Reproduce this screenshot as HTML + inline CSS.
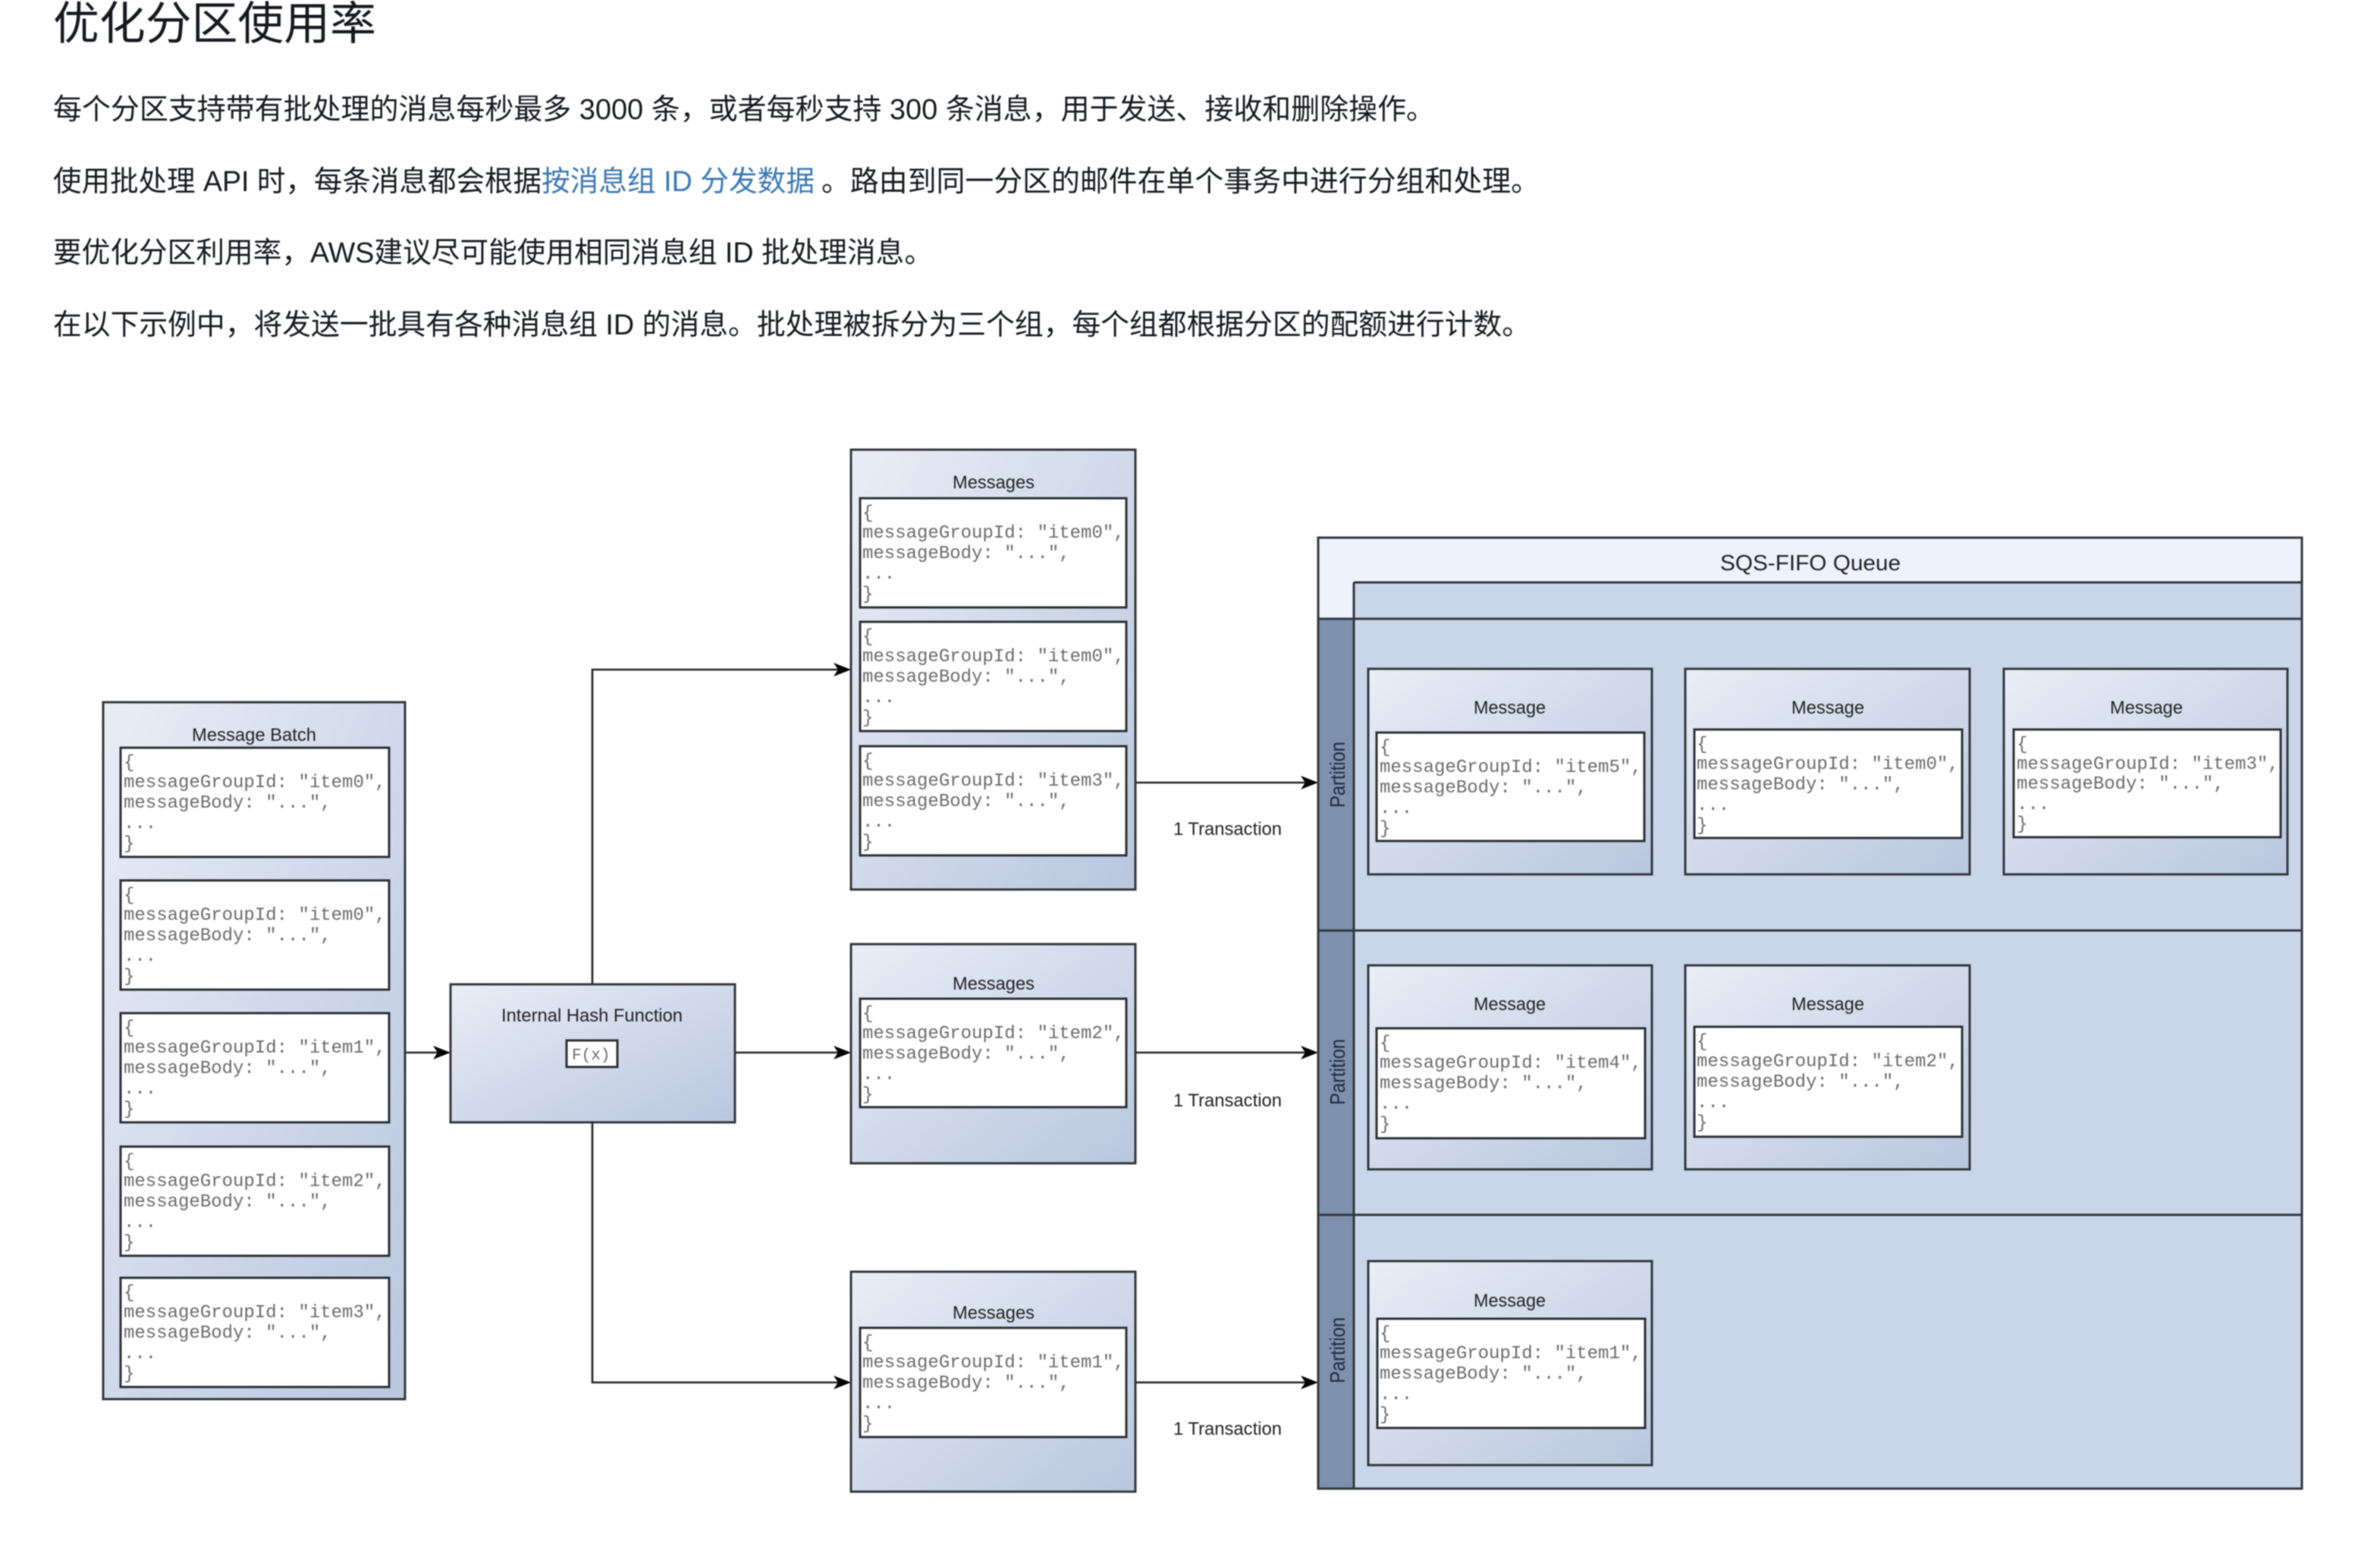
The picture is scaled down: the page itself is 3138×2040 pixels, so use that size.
<!DOCTYPE html>
<html lang="zh"><head><meta charset="utf-8"><title>优化分区使用率</title>
<style>
html,body{margin:0;padding:0;background:#fff;width:3138px;height:2040px;overflow:hidden}
svg{display:block;filter:blur(0.9px)}
.c{font-family:"Liberation Sans","Noto Sans CJK SC",sans-serif;fill:#16191f;font-size:38px}
.h{font-family:"Liberation Sans","Noto Sans CJK SC",sans-serif;fill:#16191f;font-size:60px}
.s{font-family:"Liberation Sans",sans-serif;fill:#222;font-size:24px}
.m{font-family:"Liberation Mono",monospace;fill:#6a6a6a;font-size:24px}
.b{fill:none;stroke:#33373c;stroke-width:3}
.w{fill:#fff;stroke:#2c3035;stroke-width:3}
.g{fill:url(#gr);stroke:#33373c;stroke-width:3}
.l{fill:none;stroke:#222;stroke-width:2.6}
</style></head><body>
<svg xmlns="http://www.w3.org/2000/svg" width="3138" height="2040" viewBox="0 0 3138 2040">
<defs>
<linearGradient id="gr" x1="0" y1="0" x2="1" y2="1"><stop offset="0" stop-color="#e9edf6"/><stop offset="1" stop-color="#b8c6de"/></linearGradient>
</defs>
<rect width="3138" height="2040" fill="#fff"/>

<text class="h" x="70" y="52" textLength="426" lengthAdjust="spacingAndGlyphs">优化分区使用率</text>
<text class="c" x="70" y="157" textLength="1822" lengthAdjust="spacingAndGlyphs">每个分区支持带有批处理的消息每秒最多 3000 条，或者每秒支持 300 条消息，用于发送、接收和删除操作。</text>
<text class="c" x="70" y="252" textLength="644" lengthAdjust="spacingAndGlyphs">使用批处理 API 时，每条消息都会根据</text>
<text class="c" x="714" y="252" textLength="360" lengthAdjust="spacingAndGlyphs" style="fill:#3b78b5">按消息组 ID 分发数据</text>
<text class="c" x="1083" y="252" textLength="947" lengthAdjust="spacingAndGlyphs">。路由到同一分区的邮件在单个事务中进行分组和处理。</text>
<text class="c" x="70" y="346" textLength="1160" lengthAdjust="spacingAndGlyphs">要优化分区利用率，AWS建议尽可能使用相同消息组 ID 批处理消息。</text>
<text class="c" x="70" y="441" textLength="1948" lengthAdjust="spacingAndGlyphs">在以下示例中，将发送一批具有各种消息组 ID 的消息。批处理被拆分为三个组，每个组都根据分区的配额进行计数。</text>

<!-- connectors -->
<path class="l" d="M534 1388H578M969 1388H1106M1497 1388H1722M1497 1032H1722M1497 1823H1722M781 1298V883H1106M781 1480V1823H1106"/>
<path d="M594 1388l-23-9 6 9-6 9z"/>
<path d="M1122 1388l-23-9 6 9-6 9z"/>
<path d="M1122 883l-23-9 6 9-6 9z"/>
<path d="M1122 1823l-23-9 6 9-6 9z"/>
<path d="M1738 1032l-23-9 6 9-6 9z"/>
<path d="M1738 1388l-23-9 6 9-6 9z"/>
<path d="M1738 1823l-23-9 6 9-6 9z"/>
<text class="s" x="1547" y="1101" textLength="143" lengthAdjust="spacingAndGlyphs">1 Transaction</text>
<text class="s" x="1547" y="1459" textLength="143" lengthAdjust="spacingAndGlyphs">1 Transaction</text>
<text class="s" x="1547" y="1892" textLength="143" lengthAdjust="spacingAndGlyphs">1 Transaction</text>

<!-- Message Batch -->
<rect class="g" x="136" y="926" width="398" height="919"/>
<text class="s" x="253" y="977" textLength="164" lengthAdjust="spacingAndGlyphs">Message Batch</text>
<g transform="translate(159,986)"><rect class="w" width="354" height="144"/><text class="m" x="4" y="26">{</text><text class="m" x="4" y="52">messageGroupId: "item0",</text><text class="m" x="4" y="79">messageBody: "...",</text><text class="m" x="4" y="106">...</text><text class="m" x="4" y="133">}</text></g>
<g transform="translate(159,1161)"><rect class="w" width="354" height="144"/><text class="m" x="4" y="26">{</text><text class="m" x="4" y="52">messageGroupId: "item0",</text><text class="m" x="4" y="79">messageBody: "...",</text><text class="m" x="4" y="106">...</text><text class="m" x="4" y="133">}</text></g>
<g transform="translate(159,1336)"><rect class="w" width="354" height="144"/><text class="m" x="4" y="26">{</text><text class="m" x="4" y="52">messageGroupId: "item1",</text><text class="m" x="4" y="79">messageBody: "...",</text><text class="m" x="4" y="106">...</text><text class="m" x="4" y="133">}</text></g>
<g transform="translate(159,1512)"><rect class="w" width="354" height="144"/><text class="m" x="4" y="26">{</text><text class="m" x="4" y="52">messageGroupId: "item2",</text><text class="m" x="4" y="79">messageBody: "...",</text><text class="m" x="4" y="106">...</text><text class="m" x="4" y="133">}</text></g>
<g transform="translate(159,1685)"><rect class="w" width="354" height="144"/><text class="m" x="4" y="26">{</text><text class="m" x="4" y="52">messageGroupId: "item3",</text><text class="m" x="4" y="79">messageBody: "...",</text><text class="m" x="4" y="106">...</text><text class="m" x="4" y="133">}</text></g>

<!-- Hash -->
<rect class="g" x="594" y="1298" width="375" height="182"/>
<text class="s" x="661" y="1347" textLength="239" lengthAdjust="spacingAndGlyphs">Internal Hash Function</text>
<rect class="w" x="747" y="1372" width="67" height="35"/>
<text class="m" x="754" y="1397" style="font-size:21px">F(x)</text>

<!-- Messages 1 -->
<rect class="g" x="1122" y="593" width="375" height="580"/>
<text class="s" x="1256" y="644" textLength="108" lengthAdjust="spacingAndGlyphs">Messages</text>
<g transform="translate(1134,657)"><rect class="w" width="351" height="144"/><text class="m" x="3" y="26">{</text><text class="m" x="3" y="52">messageGroupId: "item0",</text><text class="m" x="3" y="79">messageBody: "...",</text><text class="m" x="3" y="106">...</text><text class="m" x="3" y="133">}</text></g>
<g transform="translate(1134,820)"><rect class="w" width="351" height="144"/><text class="m" x="3" y="26">{</text><text class="m" x="3" y="52">messageGroupId: "item0",</text><text class="m" x="3" y="79">messageBody: "...",</text><text class="m" x="3" y="106">...</text><text class="m" x="3" y="133">}</text></g>
<g transform="translate(1134,984)"><rect class="w" width="351" height="144"/><text class="m" x="3" y="26">{</text><text class="m" x="3" y="52">messageGroupId: "item3",</text><text class="m" x="3" y="79">messageBody: "...",</text><text class="m" x="3" y="106">...</text><text class="m" x="3" y="133">}</text></g>

<!-- Messages 2 -->
<rect class="g" x="1122" y="1245" width="375" height="289"/>
<text class="s" x="1256" y="1305" textLength="108" lengthAdjust="spacingAndGlyphs">Messages</text>
<g transform="translate(1134,1317)"><rect class="w" width="351" height="143"/><text class="m" x="3" y="26">{</text><text class="m" x="3" y="52">messageGroupId: "item2",</text><text class="m" x="3" y="79">messageBody: "...",</text><text class="m" x="3" y="106">...</text><text class="m" x="3" y="133">}</text></g>

<!-- Messages 3 -->
<rect class="g" x="1122" y="1677" width="375" height="290"/>
<text class="s" x="1256" y="1739" textLength="108" lengthAdjust="spacingAndGlyphs">Messages</text>
<g transform="translate(1134,1751)"><rect class="w" width="351" height="144"/><text class="m" x="3" y="26">{</text><text class="m" x="3" y="52">messageGroupId: "item1",</text><text class="m" x="3" y="79">messageBody: "...",</text><text class="m" x="3" y="106">...</text><text class="m" x="3" y="133">}</text></g>

<!-- Queue -->
<rect x="1738" y="709" width="1297" height="1254" fill="#edf3fc"/>
<rect x="1785" y="768" width="1250" height="1195" fill="#c9d5e8"/>
<rect x="1738" y="816" width="47" height="1147" fill="#7d90ad"/>
<path class="b" d="M1785 768H3035M1738 816H3035M1738 1227H3035M1738 1602H3035M1785 768V1963"/>
<rect class="b" x="1738" y="709" width="1297" height="1254"/>
<text class="s" x="2268" y="752" textLength="238" lengthAdjust="spacingAndGlyphs" style="font-size:29px">SQS-FIFO Queue</text>
<text class="s" transform="translate(1773,1065) rotate(-90)" textLength="87" lengthAdjust="spacingAndGlyphs" style="font-size:28px;fill:#1e2a3c">Partition</text>
<text class="s" transform="translate(1773,1457) rotate(-90)" textLength="87" lengthAdjust="spacingAndGlyphs" style="font-size:28px;fill:#1e2a3c">Partition</text>
<text class="s" transform="translate(1773,1824) rotate(-90)" textLength="87" lengthAdjust="spacingAndGlyphs" style="font-size:28px;fill:#1e2a3c">Partition</text>

<!-- Row 1 -->
<rect class="g" x="1804" y="882" width="374" height="271"/>
<text class="s" x="1943" y="941" textLength="95" lengthAdjust="spacingAndGlyphs">Message</text>
<g transform="translate(1815,966)"><rect class="w" width="353" height="143"/><text class="m" x="4" y="26">{</text><text class="m" x="4" y="52">messageGroupId: "item5",</text><text class="m" x="4" y="79">messageBody: "...",</text><text class="m" x="4" y="106">...</text><text class="m" x="4" y="133">}</text></g>
<rect class="g" x="2222" y="882" width="375" height="271"/>
<text class="s" x="2362" y="941" textLength="96" lengthAdjust="spacingAndGlyphs">Message</text>
<g transform="translate(2234,962)"><rect class="w" width="353" height="143"/><text class="m" x="3" y="26">{</text><text class="m" x="3" y="52">messageGroupId: "item0",</text><text class="m" x="3" y="79">messageBody: "...",</text><text class="m" x="3" y="106">...</text><text class="m" x="3" y="133">}</text></g>
<rect class="g" x="2642" y="882" width="374" height="271"/>
<text class="s" x="2782" y="941" textLength="96" lengthAdjust="spacingAndGlyphs">Message</text>
<g transform="translate(2655,962)"><rect class="w" width="352" height="142"/><text class="m" x="4" y="26">{</text><text class="m" x="4" y="52">messageGroupId: "item3",</text><text class="m" x="4" y="78">messageBody: "...",</text><text class="m" x="4" y="105">...</text><text class="m" x="4" y="131">}</text></g>

<!-- Row 2 -->
<rect class="g" x="1804" y="1273" width="374" height="269"/>
<text class="s" x="1943" y="1332" textLength="95" lengthAdjust="spacingAndGlyphs">Message</text>
<g transform="translate(1815,1356)"><rect class="w" width="354" height="145"/><text class="m" x="4" y="26">{</text><text class="m" x="4" y="52">messageGroupId: "item4",</text><text class="m" x="4" y="79">messageBody: "...",</text><text class="m" x="4" y="106">...</text><text class="m" x="4" y="133">}</text></g>
<rect class="g" x="2222" y="1273" width="375" height="269"/>
<text class="s" x="2362" y="1332" textLength="96" lengthAdjust="spacingAndGlyphs">Message</text>
<g transform="translate(2234,1354)"><rect class="w" width="353" height="145"/><text class="m" x="3" y="26">{</text><text class="m" x="3" y="52">messageGroupId: "item2",</text><text class="m" x="3" y="79">messageBody: "...",</text><text class="m" x="3" y="106">...</text><text class="m" x="3" y="133">}</text></g>

<!-- Row 3 -->
<rect class="g" x="1804" y="1663" width="374" height="269"/>
<text class="s" x="1943" y="1723" textLength="95" lengthAdjust="spacingAndGlyphs">Message</text>
<g transform="translate(1816,1739)"><rect class="w" width="353" height="144"/><text class="m" x="3" y="26">{</text><text class="m" x="3" y="52">messageGroupId: "item1",</text><text class="m" x="3" y="79">messageBody: "...",</text><text class="m" x="3" y="106">...</text><text class="m" x="3" y="133">}</text></g>
</svg>
</body></html>
